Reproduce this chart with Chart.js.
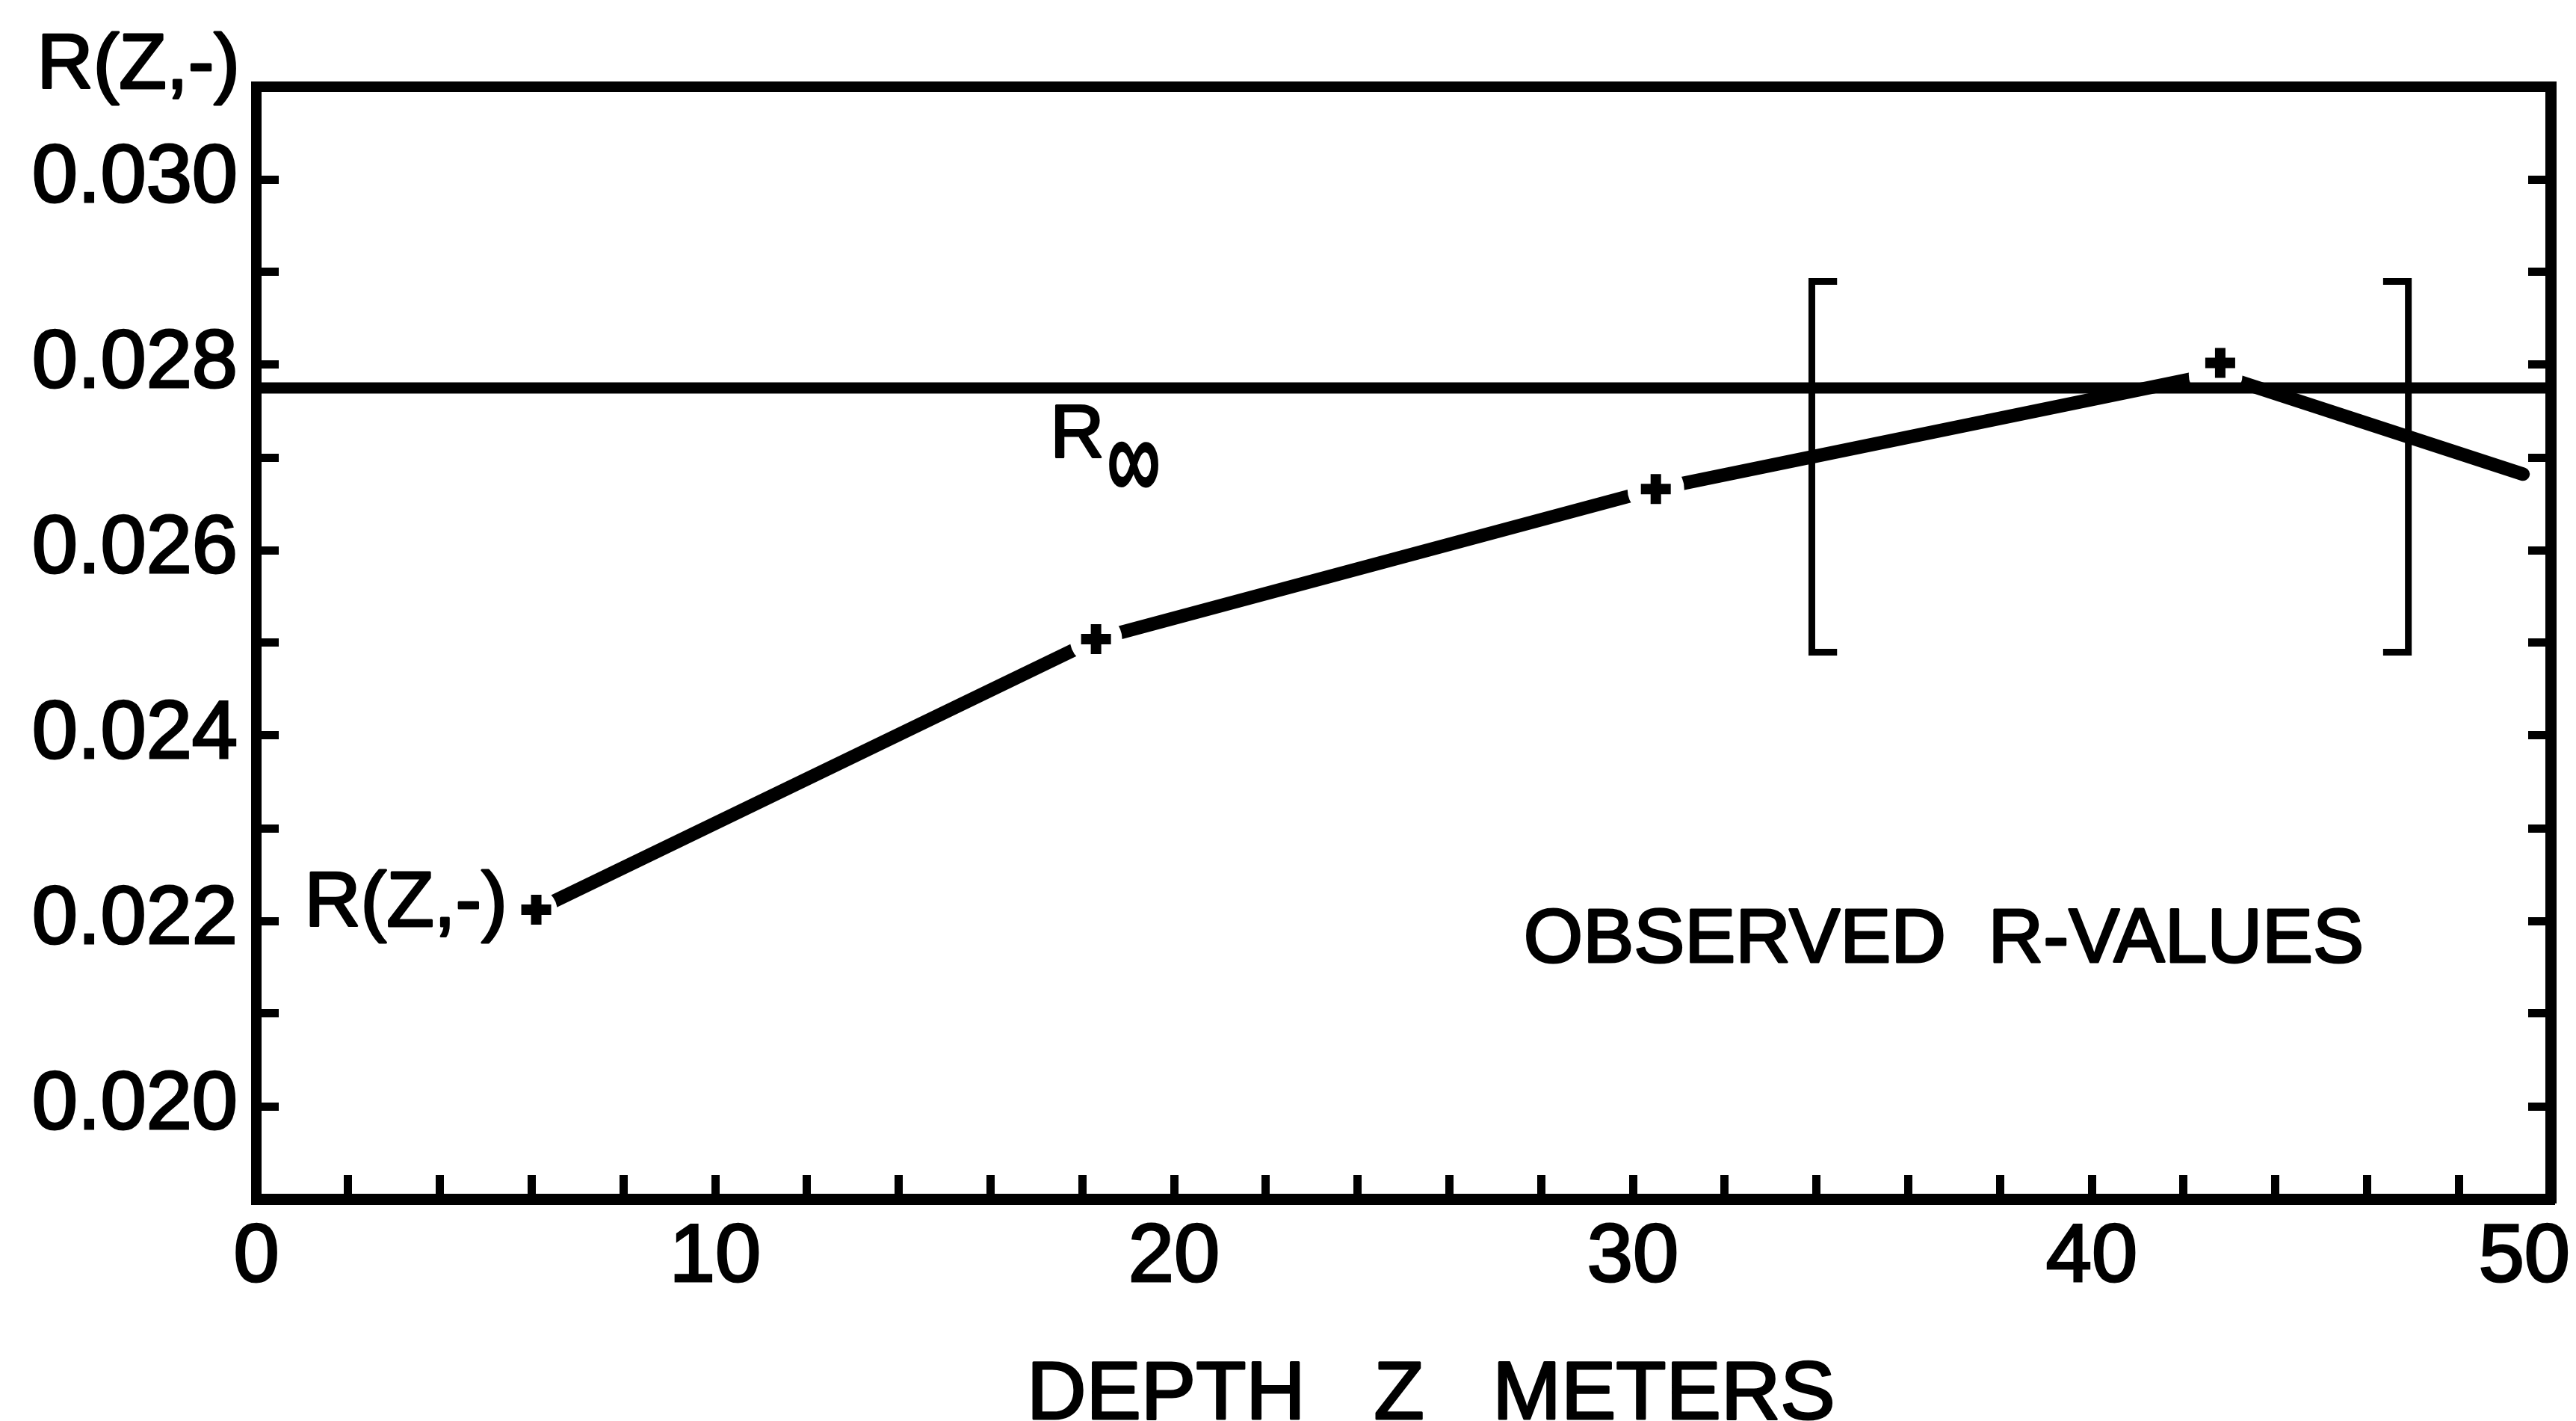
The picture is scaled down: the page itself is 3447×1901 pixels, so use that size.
<!DOCTYPE html>
<html lang="en">
  <head>
    <meta charset="UTF-8" />
    <title>R(Z,-) against depth</title>
    <style>
      html,
      body {
        margin: 0;
        padding: 0;
        background: #fff;
      }
      #chart {
        display: block;
      }
    </style>
    <script src="https://cdn.jsdelivr.net/npm/chart.js"></script>
  </head>
  <body>
    <canvas id="chart" width="3447" height="1901"></canvas>
    <script>
      // curve drawn through the observations (depth in m, R dimensionless)
      const curveDepth = [6.1, 18.3, 30.5, 42.7, 49.4];
      const curveR = [0.02212, 0.02504, 0.02666, 0.0279, 0.02682];

      // observed R-values, the "+" marks
      const obsDepth = [6.1, 18.3, 30.5, 42.8];
      const obsR = [0.02212, 0.02504, 0.02666, 0.02802];

      // asymptotic value R-infinity
      const rInfDepth = [0, 50];
      const rInf = [0.02775, 0.02775];

      // the [ ] range marks
      const bracketLeftZ = [34.45, 33.9, 33.9, 34.45];
      const bracketRightZ = [46.35, 46.9, 46.9, 46.35];
      const bracketR = [0.0289, 0.0289, 0.0249, 0.0249];

      // labelled ticks
      const xTickLabels = [0, 10, 20, 30, 40, 50];
      const yTickLabels = [0.02, 0.022, 0.024, 0.026, 0.028, 0.03];

      const FONT = "'Liberation Sans', Arial, sans-serif";
      const STROKE = 3; // thickens the lettering a little
      Chart.defaults.font.family = FONT;
      Chart.defaults.color = "#000";

      const toPoints = (xs, ys) => xs.map((v, i) => ({ x: v, y: ys[i] }));

      // fix the axis box sizes so the frame sits where it does in the figure
      function fixBox(w, h) {
        return function (scale) {
          if (w != null) scale.width = w;
          if (h != null) scale.height = h;
          scale.paddingLeft = 0;
          scale.paddingRight = 0;
          scale.paddingTop = 0;
          scale.paddingBottom = 0;
        };
      }

      function text(ctx, s, x, y) {
        ctx.strokeText(s, x, y);
        ctx.fillText(s, x, y);
      }

      const labelPlugin = {
        id: "labels",
        beforeDraw(chart) {
          // the last depth label is pushed inside the page, as in the figure
          const items = chart.scales.x.getLabelItems();
          const last = items.find((it) => it.label === "50");
          if (last) {
            last.options.textAlign = "right";
            last.options.translation[0] = chart.width - 8;
          }
        },
        afterDraw(chart) {
          const { ctx, chartArea } = chart;
          const x = chart.scales.x;
          const y = chart.scales.y;
          ctx.save();
          ctx.fillStyle = "#000";
          ctx.strokeStyle = "#000";
          ctx.lineWidth = STROKE;
          ctx.lineJoin = "round";
          ctx.textBaseline = "alphabetic";

          // name of the vertical axis, above it
          ctx.font = "104px " + FONT;
          ctx.textAlign = "right";
          text(ctx, "R(Z,-)", chartArea.left - 22, chartArea.top + 2);

          // label next to the first observation
          text(ctx, "R(Z,-)", x.getPixelForValue(5.47), y.getPixelForValue(0.02194));

          // R-infinity
          ctx.textAlign = "left";
          ctx.font = "100px " + FONT;
          const rx = x.getPixelForValue(17.3);
          const ry = y.getPixelForValue(0.027);
          text(ctx, "R", rx, ry);
          const rw = ctx.measureText("R").width;
          ctx.save();
          ctx.translate(rx + rw + 4, ry + 12);
          ctx.scale(1, 1.5);
          ctx.textBaseline = "middle";
          text(ctx, "\u221E", 0, 0);
          ctx.restore();

          // legend text
          ctx.font = "102px " + FONT;
          text(
            ctx,
            "OBSERVED  R-VALUES",
            x.getPixelForValue(27.62),
            y.getPixelForValue(0.02156)
          );

          // horizontal axis name, a little right of centre as in the figure
          ctx.font = "110px " + FONT;
          ctx.textAlign = "center";
          text(ctx, "DEPTH   Z   METERS", x.getPixelForValue(25.6), chart.height - 3);
          ctx.restore();
        },
      };

      const tickGrid = (len) => ({
        display: true,
        drawOnChartArea: false,
        drawTicks: true,
        tickLength: len,
        tickWidth: 11,
        tickColor: "#000",
        color: "#000",
        lineWidth: 11,
      });

      new Chart(document.getElementById("chart"), {
        type: "scatter",
        data: {
          datasets: [
            {
              // white dots open the gaps round the "+" marks
              data: toPoints(curveDepth, curveR),
              showLine: true,
              borderColor: "#000",
              borderWidth: 18,
              borderCapStyle: "round",
              borderJoinStyle: "round",
              tension: 0,
              pointRadius: [28, 35, 38, 36, 0],
              pointBackgroundColor: "#fff",
              pointBorderColor: "#fff",
              pointBorderWidth: 0,
              order: 3,
            },
            {
              data: toPoints(rInfDepth, rInf),
              showLine: true,
              borderColor: "#000",
              borderWidth: 15,
              pointRadius: 0,
              order: 2,
            },
            {
              data: toPoints(bracketLeftZ, bracketR),
              showLine: true,
              borderColor: "#000",
              borderWidth: 9,
              borderJoinStyle: "miter",
              pointRadius: 0,
              order: 2,
            },
            {
              data: toPoints(bracketRightZ, bracketR),
              showLine: true,
              borderColor: "#000",
              borderWidth: 9,
              borderJoinStyle: "miter",
              pointRadius: 0,
              order: 2,
            },
            {
              data: toPoints(obsDepth, obsR),
              showLine: false,
              pointStyle: "cross",
              pointRadius: 20,
              pointBorderWidth: 14,
              pointBorderColor: "#000",
              order: 0,
            },
          ],
        },
        options: {
          responsive: false,
          animation: false,
          devicePixelRatio: 1,
          events: [],
          layout: { padding: 0 },
          plugins: {
            legend: { display: false },
            tooltip: { enabled: false },
          },
          scales: {
            x: {
              type: "linear",
              position: "bottom",
              min: 0,
              max: 50,
              ticks: {
                stepSize: 2,
                autoSkip: false,
                maxRotation: 0,
                padding: 46,
                font: { size: 110 },
                textStrokeColor: "#000",
                textStrokeWidth: STROKE,
                callback: (v) =>
                  xTickLabels.some((t) => Math.abs(t - v) < 1e-6) ? String(v) : "",
              },
              grid: tickGrid(-32),
              border: { display: true, color: "#000", width: 15 },
              afterFit: fixBox(null, 297),
            },
            x2: {
              type: "linear",
              position: "top",
              min: 0,
              max: 50,
              ticks: { display: false },
              grid: { display: true, drawOnChartArea: false, drawTicks: false },
              border: { display: true, color: "#000", width: 14 },
              afterFit: fixBox(null, 116),
            },
            y: {
              type: "linear",
              position: "left",
              min: 0.019,
              max: 0.031,
              ticks: {
                stepSize: 0.001,
                autoSkip: false,
                padding: 55,
                font: { size: 110 },
                textStrokeColor: "#000",
                textStrokeWidth: STROKE,
                callback: (v) =>
                  yTickLabels.some((t) => Math.abs(t - v) < 1e-7) ? v.toFixed(3) : "",
              },
              grid: tickGrid(-30),
              border: { display: true, color: "#000", width: 14 },
              afterFit: fixBox(343, null),
            },
            y2: {
              type: "linear",
              position: "right",
              min: 0.019,
              max: 0.031,
              ticks: { display: false, stepSize: 0.001, autoSkip: false },
              grid: tickGrid(-30),
              border: { display: true, color: "#000", width: 15 },
              afterFit: fixBox(17, null),
            },
          },
        },
        plugins: [labelPlugin],
      });
    </script>
  </body>
</html>
